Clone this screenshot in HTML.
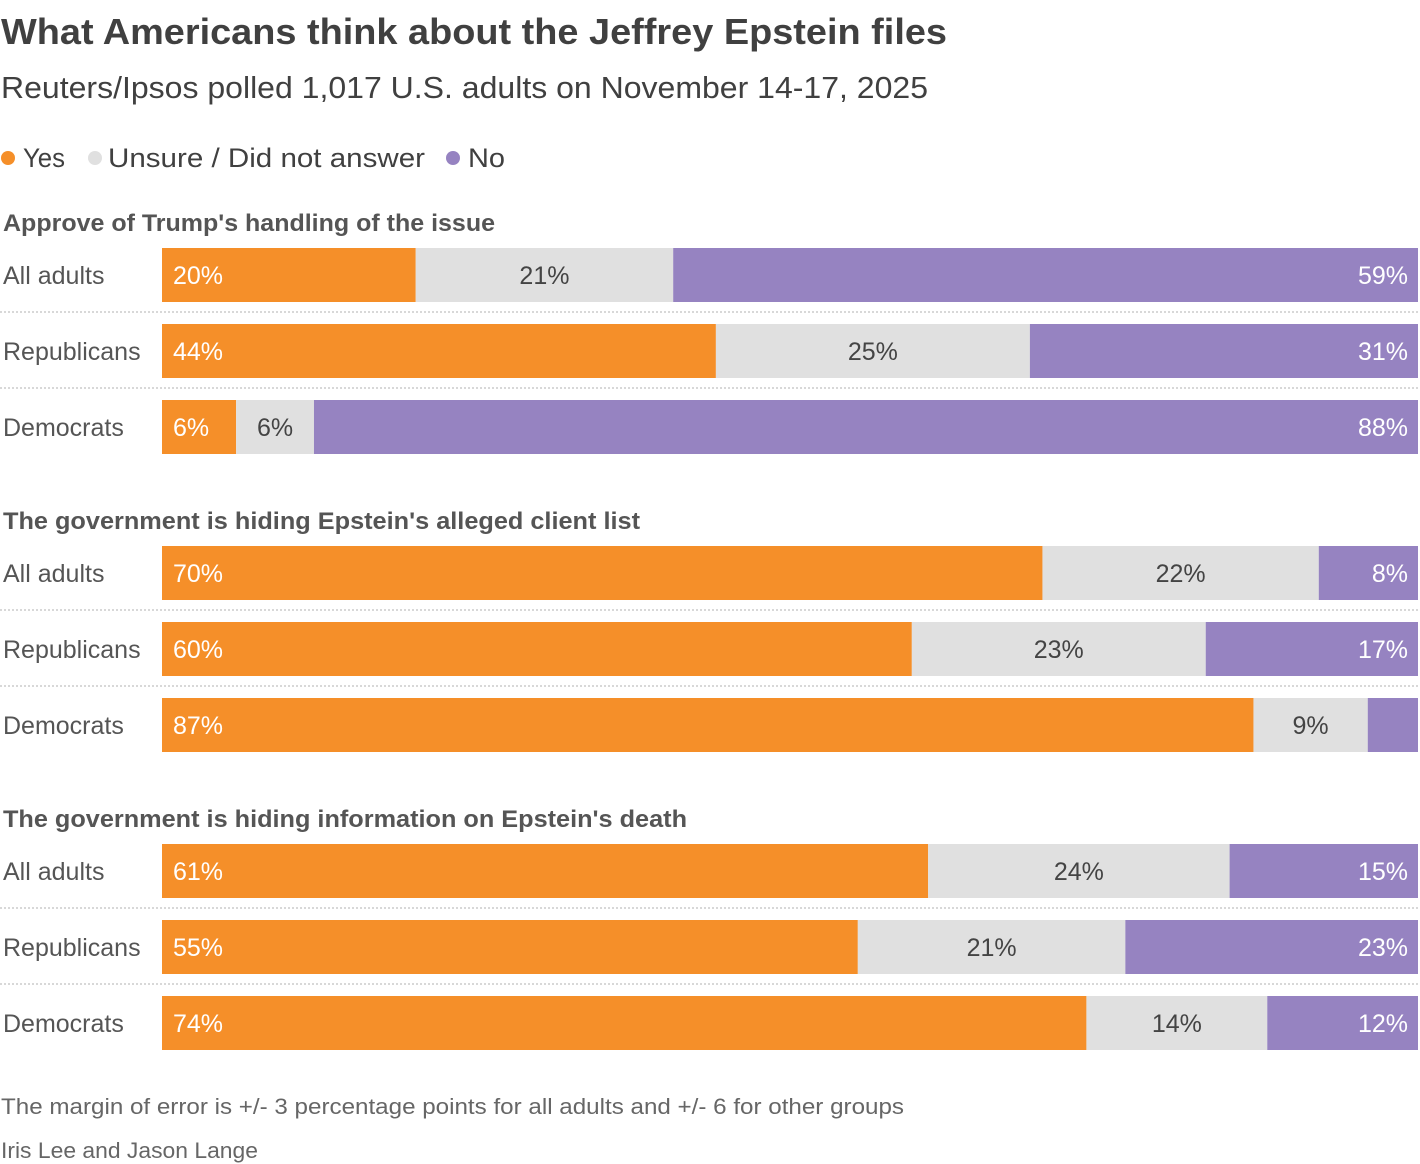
<!DOCTYPE html>
<html><head><meta charset="utf-8"><style>
body{margin:0;background:#fff}
svg{display:block;font-family:"Liberation Sans",Arial,sans-serif}
</style></head><body>
<svg id="chart" width="1420" height="1164">
<text x="1" y="44" font-size="36" font-weight="bold" fill="#404040" textLength="946" lengthAdjust="spacingAndGlyphs">What Americans think about the Jeffrey Epstein files</text>
<text x="1" y="98" font-size="31" fill="#404040" textLength="927" lengthAdjust="spacingAndGlyphs">Reuters/Ipsos polled 1,017 U.S. adults on November 14-17, 2025</text>
<g>
<circle cx="8" cy="158" r="7" fill="#F58F29"/>
<text x="23" y="167" font-size="27" fill="#404040" textLength="42" lengthAdjust="spacingAndGlyphs">Yes</text>
<circle cx="95" cy="158" r="7" fill="#E0E0E0"/>
<text x="108" y="167" font-size="27" fill="#404040" textLength="317" lengthAdjust="spacingAndGlyphs">Unsure / Did not answer</text>
<circle cx="453" cy="158" r="7" fill="#9683C1"/>
<text x="468" y="167" font-size="27" fill="#404040" textLength="37" lengthAdjust="spacingAndGlyphs">No</text>
</g>
<g id="bars"></g>
<text x="1" y="1114" font-size="22" fill="#666" textLength="903" lengthAdjust="spacingAndGlyphs">The margin of error is +/- 3 percentage points for all adults and +/- 6 for other groups</text>
<text x="1" y="1158" font-size="22" fill="#666" textLength="257" lengthAdjust="spacingAndGlyphs">Iris Lee and Jason Lange</text>
</svg>
<script>
const sections = ["Approve of Trump's handling of the issue","The government is hiding Epstein's alleged client list","The government is hiding information on Epstein's death"];
const sectionWidths = [492, 637, 684];
const groups = ["All adults","Republicans","Democrats"];
const yesValues = [20.2,44.1,5.9, 70.1,59.7,86.9, 61.0,55.4,73.6];
const unsureValues = [20.5,25.0,6.2, 22.0,23.4,9.1, 24.0,21.3,14.4];
const noValues = [59.3,30.9,87.9, 7.9,16.9,4.0, 15.0,23.3,12.0];

const NS="http://www.w3.org/2000/svg";
const g=document.getElementById('bars');
const x0=162, plotW=1256;
function xs(v){return v/100*plotW;}
function mk(tag,attrs,parent){const e=document.createElementNS(NS,tag);for(const k in attrs)e.setAttribute(k,attrs[k]);(parent||g).appendChild(e);return e;}
const secTop=[248,546,844];
sections.forEach((s,si)=>{
  const t=mk('text',{x:3,y:secTop[si]-17,'font-size':24,'font-weight':'bold',fill:'#555',textLength:sectionWidths[si],lengthAdjust:'spacingAndGlyphs'});
  
  
  t.textContent=s;
  groups.forEach((gr,ri)=>{
    const i=si*3+ri;
    const y=secTop[si]+ri*76, h=54;
    if(ri>0){
      const ln=mk('line',{x1:0,x2:1418,y1:y-12,y2:y-12,stroke:'#ccc','stroke-width':1.5,'stroke-dasharray':'2,2'});
      
      
    }
    const lb=mk('text',{x:3,y:y+h/2+9,'font-size':25,fill:'#555'});
    
    
    lb.textContent=gr;
    const total=yesValues[i]+unsureValues[i]+noValues[i];
    const yw=xs(yesValues[i]/total*100), uw=xs(unsureValues[i]/total*100), nw=xs(noValues[i]/total*100);
    const b1=mk('rect',{x:x0,y:y,width:yw,height:h,fill:'#F58F29'});
    
    
    const b2=mk('rect',{x:x0+yw,y:y,width:uw,height:h,fill:'#E0E0E0'});
    
    
    const b3=mk('rect',{x:x0+yw+uw,y:y,width:nw,height:h,fill:'#9683C1'});
    
    
    const ty=y+h/2+9;
    if(yesValues[i]>=5){
      const v=mk('text',{x:x0+11,y:ty,'font-size':25,fill:'#fff'});
      
      
      v.textContent=Math.round(yesValues[i])+'%';
    }
    if(unsureValues[i]>=5){
      const v=mk('text',{x:x0+yw+uw/2,y:ty,'font-size':25,fill:'#444','text-anchor':'middle'});
      
      
      v.textContent=Math.round(unsureValues[i])+'%';
    }
    if(noValues[i]>=5){
      const v=mk('text',{x:1408,y:ty,'font-size':25,fill:'#fff','text-anchor':'end'});
      
      
      v.textContent=Math.round(noValues[i])+'%';
    }
  });
});
</script>
</body></html>
